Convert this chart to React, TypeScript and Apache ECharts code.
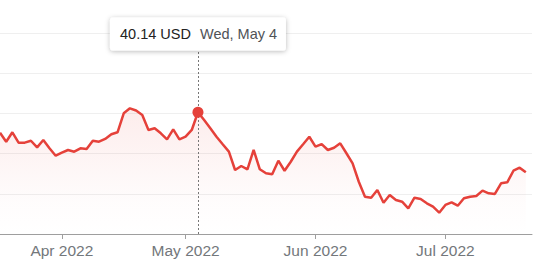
import React, { useEffect, useRef } from 'react';
import * as echarts from 'echarts';

// Trading days shown on the chart (last category has no quote yet)
const dates: string[] = [
  '2022-03-18', '2022-03-21', '2022-03-22', '2022-03-23', '2022-03-24', '2022-03-25', '2022-03-28', '2022-03-29', '2022-03-30', '2022-03-31',
  '2022-04-01', '2022-04-04', '2022-04-05', '2022-04-06', '2022-04-07', '2022-04-08', '2022-04-11', '2022-04-12', '2022-04-13', '2022-04-14',
  '2022-04-18', '2022-04-19', '2022-04-20', '2022-04-21', '2022-04-22', '2022-04-25', '2022-04-26', '2022-04-27', '2022-04-28', '2022-04-29',
  '2022-05-02', '2022-05-03', '2022-05-04', '2022-05-05', '2022-05-06', '2022-05-09', '2022-05-10', '2022-05-11', '2022-05-12', '2022-05-13',
  '2022-05-16', '2022-05-17', '2022-05-18', '2022-05-19', '2022-05-20', '2022-05-23', '2022-05-24', '2022-05-25', '2022-05-26', '2022-05-27',
  '2022-05-31', '2022-06-01', '2022-06-02', '2022-06-03', '2022-06-06', '2022-06-07', '2022-06-08', '2022-06-09', '2022-06-10', '2022-06-13',
  '2022-06-14', '2022-06-15', '2022-06-16', '2022-06-17', '2022-06-21', '2022-06-22', '2022-06-23', '2022-06-24', '2022-06-27', '2022-06-28',
  '2022-06-29', '2022-06-30', '2022-07-01', '2022-07-05', '2022-07-06', '2022-07-07', '2022-07-08', '2022-07-11', '2022-07-12', '2022-07-13',
  '2022-07-14', '2022-07-15', '2022-07-18', '2022-07-19', '2022-07-20', '2022-07-21', '2022-07-22',
];

// Closing prices (USD), one per trading day
const prices: number[] = [
  37.60, 36.48, 37.65, 36.36, 36.36, 36.60, 35.78, 36.69, 35.66, 34.74,
  35.11, 35.45, 35.24, 35.66, 35.57, 36.60, 36.48, 36.82, 37.40, 37.65,
  40.01, 40.63, 40.36, 39.80, 37.94, 38.15, 37.52, 36.78, 38.02, 36.78,
  37.10, 37.94, 40.14, 39.18, 38.15, 37.10, 36.16, 35.24, 32.96, 33.46,
  33.05, 35.45, 33.05, 32.55, 32.43, 34.12, 32.87, 33.99, 35.24, 36.16,
  37.10, 35.86, 36.19, 35.45, 35.73, 36.28, 35.04, 33.79, 31.50, 29.64,
  29.51, 30.47, 28.89, 29.85, 29.23, 29.02, 28.20, 29.51, 29.35, 28.82,
  28.40, 27.65, 28.61, 28.94, 28.52, 29.44, 29.64, 29.73, 30.39, 30.06,
  29.98, 31.31, 31.43, 32.87, 33.25, 32.67,
];

const currency = 'USD';
const highlightIndex = 32;
const yMin = 25;
const yMax = 50;
const yInterval = 5;

const monthNames = ['Jan', 'Feb', 'Mar', 'Apr', 'May', 'Jun', 'Jul', 'Aug', 'Sep', 'Oct', 'Nov', 'Dec'];
const dayNames = ['Sun', 'Mon', 'Tue', 'Wed', 'Thu', 'Fri', 'Sat'];

const RED = '#e5413a';
const FONT = "'Liberation Sans', Arial, sans-serif";

function isMonthStart(index: number): boolean {
  if (index <= 0) return false;
  return dates[index].slice(0, 7) !== dates[index - 1].slice(0, 7);
}

function monthLabel(value: string): string {
  const [y, m] = value.split('-');
  return `${monthNames[parseInt(m, 10) - 1]} ${y}`;
}

function dayLabel(value: string): string {
  const [y, m, d] = value.split('-').map((s) => parseInt(s, 10));
  const dt = new Date(y, m - 1, d);
  return `${dayNames[dt.getDay()]}, ${monthNames[m - 1]} ${d}`;
}

export default function App() {
  const ref = useRef<HTMLDivElement>(null);

  useEffect(() => {
    document.body.style.margin = '0';
    if (!ref.current) return;
    const chart = echarts.init(ref.current, undefined, { renderer: 'svg' });
    chart.setOption({
      animation: false,
      grid: { left: -1, right: 18, top: 33, bottom: 42, containLabel: false },
      xAxis: {
        type: 'category',
        data: dates,
        boundaryGap: false,
        axisLine: { show: true, lineStyle: { color: '#9e9e9e', width: 1 } },
        axisTick: {
          show: true,
          interval: (i: number) => isMonthStart(i),
          length: 5,
          lineStyle: { color: '#9e9e9e', width: 1 },
        },
        axisLabel: {
          show: true,
          interval: (i: number) => isMonthStart(i),
          formatter: (v: string) => monthLabel(v),
          color: '#73777b',
          fontSize: 15.5,
          fontFamily: FONT,
          margin: 8,
        },
        splitLine: { show: false },
      },
      yAxis: {
        type: 'value',
        min: yMin,
        max: yMax,
        interval: yInterval,
        axisLine: { show: false },
        axisTick: { show: false },
        axisLabel: { show: false },
        splitLine: { show: true, lineStyle: { color: '#efefef', width: 1 } },
      },
      series: [
        {
          type: 'line',
          data: prices,
          showSymbol: false,
          smooth: false,
          lineStyle: { color: RED, width: 2.5 },
          itemStyle: { color: RED },
          areaStyle: {
            color: new echarts.graphic.LinearGradient(0, 0, 0, 1, [
              { offset: 0, color: 'rgba(229,65,58,0.14)' },
              { offset: 0.75, color: 'rgba(229,65,58,0.02)' },
              { offset: 1, color: 'rgba(229,65,58,0)' },
            ]),
          },
          markLine: {
            silent: true,
            symbol: 'none',
            label: { show: false },
            lineStyle: { color: '#777777', width: 1, type: [2, 2] },
            data: [{ xAxis: highlightIndex }],
          },
          markPoint: {
            silent: true,
            symbol: 'circle',
            symbolSize: 11,
            itemStyle: { color: RED },
            label: { show: false },
            data: [{ coord: [highlightIndex, prices[highlightIndex]] }],
          },
        },
      ],
    });

    const [px] = chart.convertToPixel({ gridIndex: 0 }, [highlightIndex, prices[highlightIndex]]) as number[];
    const boxW = 176;
    const boxH = 33;
    const boxTop = 17.5;
    const cy = boxTop + boxH / 2;
    chart.setOption({
      graphic: [
        {
          type: 'rect',
          z: 100,
          silent: true,
          shape: { x: px - boxW / 2, y: boxTop, width: boxW, height: boxH, r: 3 },
          style: {
            fill: '#ffffff',
            shadowBlur: 5,
            shadowOffsetY: 1,
            shadowColor: 'rgba(0,0,0,0.28)',
          },
        },
        {
          type: 'text',
          z: 101,
          silent: true,
          style: {
            x: px - 7,
            y: cy,
            text: `${prices[highlightIndex].toFixed(2)} ${currency}`,
            align: 'right',
            verticalAlign: 'middle',
            fill: '#222222',
            fontSize: 14.5,
            fontFamily: FONT,
          },
        },
        {
          type: 'text',
          z: 101,
          silent: true,
          style: {
            x: px + 2,
            y: cy,
            text: dayLabel(dates[highlightIndex]),
            align: 'left',
            verticalAlign: 'middle',
            fill: '#4f5357',
            fontSize: 14.5,
            fontFamily: FONT,
          },
        },
      ],
    });

    return () => chart.dispose();
  }, []);

  return (
    <div
      ref={ref}
      style={{ position: 'absolute', left: 0, top: 0, width: 550, height: 276 }}
    />
  );
}
